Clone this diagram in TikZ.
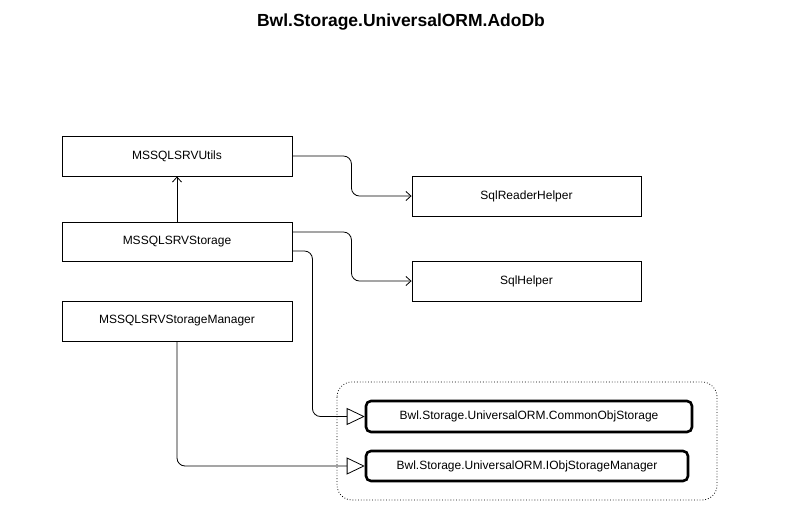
\documentclass[tikz,border=0pt]{standalone}
\usepackage{fontspec}
\setmainfont{Liberation Sans}
\usetikzlibrary{arrows.meta}
\begin{document}
\begin{tikzpicture}[x=1pt,y=-1pt,
  cls/.style={draw,line width=0.9pt,minimum width=230pt,minimum height=40pt,inner sep=0pt,font=\fontsize{12}{14}\selectfont},
  iface/.style={draw,line width=2.6pt,rounded corners=5pt,minimum height=30pt,inner sep=0pt,font=\fontsize{12}{14}\selectfont},
  dep/.style={line width=0.8pt,rounded corners=8pt,-{Straight Barb[length=5pt,width=9pt]}},
  inh/.style={line width=0.8pt,rounded corners=8pt,-{Triangle[open,length=18pt,width=17pt,fill=white]}},
  grp/.style={draw,dotted,line width=0.8pt,rounded corners=15pt}]
\useasboundingbox (0,0) rectangle (803,506);
\node[font=\bfseries\fontsize{17.5}{20}\selectfont] (title) at (401,22) {Bwl.Storage.UniversalORM.AdoDb};
\draw[grp] (337,382) rectangle (717,500);
\node[cls] (utils) at (177,156) {MSSQLSRVUtils};
\node[cls,minimum height=39pt] (storage) at (177,241.5) {MSSQLSRVStorage};
\node[cls] (mgr) at (177,321) {MSSQLSRVStorageManager};
\node[cls,minimum width=229pt] (reader) at (526.5,196) {SqlReaderHelper};
\node[cls,minimum width=229pt] (sqlhelper) at (526.5,281) {SqlHelper};
\node[iface,minimum width=326pt,minimum height=31pt] (common) at (529,416.5) {Bwl.Storage.UniversalORM.CommonObjStorage};
\node[iface,minimum width=322pt] (iobj) at (527,466) {Bwl.Storage.UniversalORM.IObjStorageManager};
\draw[dep] (utils.east) -- ++(59,0) |- (reader.west);
\draw[dep] ([yshift=9.5pt]storage.east) -- ++(59,0) |- (sqlhelper.west);
\draw[dep] (storage.north) -- (utils.south);
\draw[inh] ([yshift=-9.5pt]storage.east) -- ++(20,0) |- (common.west);
\draw[inh] (mgr.south) |- (iobj.west);
\end{tikzpicture}
\end{document}
